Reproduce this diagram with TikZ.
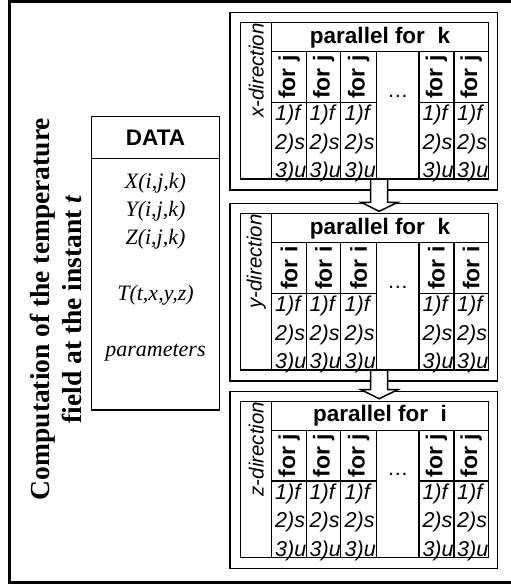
\documentclass[tikz,border=0pt]{standalone}
\usepackage{fontspec}
\setmainfont{Liberation Serif}
\setsansfont{Liberation Sans}

\begin{document}
\begin{tikzpicture}[x = 1pt, y = -1pt]
	\tikzstyle{frameStyle} = [line width = 3pt]
	\tikzstyle{cellStyle} = [draw, line width = 1.5pt, inner sep = 0pt, outer sep = 0pt]
	\tikzstyle{panelStyle} = [cellStyle, minimum width = 267.7pt, minimum height = 177.3pt]
	\tikzstyle{dirCellStyle} = [cellStyle, minimum width = 31pt, minimum height = 156.3pt]
	\tikzstyle{dirStyle} = [rotate = 90, inner sep = 0pt, font = \sffamily\itshape\fontsize{20.5}{24}\selectfont]
	\tikzstyle{headStyle} = [cellStyle, minimum width = 216.6pt, minimum height = 29pt, font = \sffamily\bfseries\fontsize{22.5}{24}\selectfont]
	\tikzstyle{forStyle} = [cellStyle, rotate = 90, minimum width = 50.6pt, font = \sffamily\bfseries\fontsize{23}{24}\selectfont]
	\tikzstyle{txtStyle} = [cellStyle, minimum height = 76.7pt]
	\tikzstyle{linesStyle} = [inner sep = 0pt, align = left, text width = 28pt, font = \sffamily\itshape\fontsize{21.5}{28.4}\selectfont]
	\tikzstyle{gapStyle} = [cellStyle, minimum width = 42.3pt, minimum height = 127.3pt]
	\tikzstyle{dotsStyle} = [inner sep = 0pt, font = \sffamily\fontsize{21}{24}\selectfont]
	\tikzstyle{arrowStyle} = [draw, fill = white, line width = 1.5pt, line join = miter]
	\useasboundingbox (0,0) rectangle (511,584);
	% outer frame
	\draw[frameStyle] (511,1.5) -- (9.5,1.5) -- (9.5,582.5) -- (511,582.5);
	\node[rotate = 90, align = center, font = \bfseries\fontsize{27.5}{32}\selectfont] (title) at (56,309) {Computation of the temperature\\field at the instant \textit{t}};
	% data
	\node[cellStyle, minimum width = 127.6pt, minimum height = 41.6pt, font = \sffamily\bfseries\fontsize{22.5}{24}\selectfont] (datahead) at (155.5,137.5) {DATA};
	\node[cellStyle, minimum width = 127.6pt, minimum height = 251.7pt] (databody) at (155.5,284.15) {};
	\node[align = center, font = \itshape\fontsize{22}{28}\selectfont] (datalist) at (155.5,267) {X(i,j,k)\\Y(i,j,k)\\Z(i,j,k)\\[28pt]T(t,x,y,z)\\[28pt]parameters};
	% x-direction
	\node[panelStyle] (xpanel) at (363.85,101.35) {};
	\node[dirCellStyle] (xdircell) at (256.2,100.85) {};
	\node[dirStyle, anchor = east] (xdir) at (256.2,23) {x-direction};
	\node[headStyle] (xhead) at (380,37.2) {parallel for\ \ k};
	\node[forStyle, minimum height = 35pt] (xfor1) at (289.2,77) {for j};
	\node[forStyle, minimum height = 34pt] (xfor2) at (323.7,77) {for j};
	\node[forStyle, minimum height = 36pt] (xfor3) at (358.7,77) {for j};
	\node[forStyle, minimum height = 35pt] (xfor4) at (436.5,77) {for j};
	\node[forStyle, minimum height = 34.3pt] (xfor5) at (471.15,77) {for j};
	\node[txtStyle, minimum width = 35pt] (xcell1) at (289.2,140.65) {};
	\node[txtStyle, minimum width = 34pt] (xcell2) at (323.7,140.65) {};
	\node[txtStyle, minimum width = 36pt] (xcell3) at (358.7,140.65) {};
	\node[txtStyle, minimum width = 35pt] (xcell4) at (436.5,140.65) {};
	\node[txtStyle, minimum width = 34.3pt] (xcell5) at (471.15,140.65) {};
	\node[linesStyle] (xtxt1) at (289.2,143.5) {1)f\\2)s\\3)u};
	\node[linesStyle] (xtxt2) at (323.7,143.5) {1)f\\2)s\\3)u};
	\node[linesStyle] (xtxt3) at (358.7,143.5) {1)f\\2)s\\3)u};
	\node[linesStyle] (xtxt4) at (436.5,143.5) {1)f\\2)s\\3)u};
	\node[linesStyle] (xtxt5) at (471.15,143.5) {1)f\\2)s\\3)u};
	\node[gapStyle] (xgap) at (397.85,115.35) {};
	\node[dotsStyle] (xdots) at (397.85,96) {\dots};
	% y-direction
	\begin{scope}[shift = {(0,191)}]
	\node[panelStyle] (ypanel) at (363.85,101.35) {};
	\node[dirCellStyle] (ydircell) at (256.2,100.85) {};
	\node[dirStyle, anchor = east] (ydir) at (256.2,23) {y-direction};
	\node[headStyle] (yhead) at (380,37.2) {parallel for\ \ k};
	\node[forStyle, minimum height = 35pt] (yfor1) at (289.2,77) {for i};
	\node[forStyle, minimum height = 34pt] (yfor2) at (323.7,77) {for i};
	\node[forStyle, minimum height = 36pt] (yfor3) at (358.7,77) {for i};
	\node[forStyle, minimum height = 35pt] (yfor4) at (436.5,77) {for i};
	\node[forStyle, minimum height = 34.3pt] (yfor5) at (471.15,77) {for i};
	\node[txtStyle, minimum width = 35pt] (ycell1) at (289.2,140.65) {};
	\node[txtStyle, minimum width = 34pt] (ycell2) at (323.7,140.65) {};
	\node[txtStyle, minimum width = 36pt] (ycell3) at (358.7,140.65) {};
	\node[txtStyle, minimum width = 35pt] (ycell4) at (436.5,140.65) {};
	\node[txtStyle, minimum width = 34.3pt] (ycell5) at (471.15,140.65) {};
	\node[linesStyle] (ytxt1) at (289.2,143.5) {1)f\\2)s\\3)u};
	\node[linesStyle] (ytxt2) at (323.7,143.5) {1)f\\2)s\\3)u};
	\node[linesStyle] (ytxt3) at (358.7,143.5) {1)f\\2)s\\3)u};
	\node[linesStyle] (ytxt4) at (436.5,143.5) {1)f\\2)s\\3)u};
	\node[linesStyle] (ytxt5) at (471.15,143.5) {1)f\\2)s\\3)u};
	\node[gapStyle] (ygap) at (397.85,115.35) {};
	\node[dotsStyle] (ydots) at (397.85,96) {\dots};
	\end{scope}
	% z-direction
	\begin{scope}[shift = {(0,378.7)}]
	\node[panelStyle] (zpanel) at (363.85,101.35) {};
	\node[dirCellStyle] (zdircell) at (256.2,100.85) {};
	\node[dirStyle, anchor = east] (zdir) at (256.2,23) {z-direction};
	\node[headStyle] (zhead) at (380,37.2) {parallel for\ \ i};
	\node[forStyle, minimum height = 35pt] (zfor1) at (289.2,77) {for j};
	\node[forStyle, minimum height = 34pt] (zfor2) at (323.7,77) {for j};
	\node[forStyle, minimum height = 36pt] (zfor3) at (358.7,77) {for j};
	\node[forStyle, minimum height = 35pt] (zfor4) at (436.5,77) {for j};
	\node[forStyle, minimum height = 34.3pt] (zfor5) at (471.15,77) {for j};
	\node[txtStyle, minimum width = 35pt] (zcell1) at (289.2,140.65) {};
	\node[txtStyle, minimum width = 34pt] (zcell2) at (323.7,140.65) {};
	\node[txtStyle, minimum width = 36pt] (zcell3) at (358.7,140.65) {};
	\node[txtStyle, minimum width = 35pt] (zcell4) at (436.5,140.65) {};
	\node[txtStyle, minimum width = 34.3pt] (zcell5) at (471.15,140.65) {};
	\node[linesStyle] (ztxt1) at (289.2,143.5) {1)f\\2)s\\3)u};
	\node[linesStyle] (ztxt2) at (323.7,143.5) {1)f\\2)s\\3)u};
	\node[linesStyle] (ztxt3) at (358.7,143.5) {1)f\\2)s\\3)u};
	\node[linesStyle] (ztxt4) at (436.5,143.5) {1)f\\2)s\\3)u};
	\node[linesStyle] (ztxt5) at (471.15,143.5) {1)f\\2)s\\3)u};
	\node[gapStyle] (zgap) at (397.85,115.35) {};
	\node[dotsStyle] (zdots) at (397.85,96) {\dots};
	\end{scope}
	% block arrows between the panels
	\draw[arrowStyle] (370.7,179) -- (370.7,202.3) -- (361,202.3) -- (379.2,211.3) -- (397.7,202.3) -- (387.7,202.3) -- (387.7,179) -- cycle;
	\draw[arrowStyle] (370.7,370) -- (370.7,389.7) -- (361,389.7) -- (379.2,398.7) -- (397.7,389.7) -- (387.7,389.7) -- (387.7,370) -- cycle;
\end{tikzpicture}
\end{document}
